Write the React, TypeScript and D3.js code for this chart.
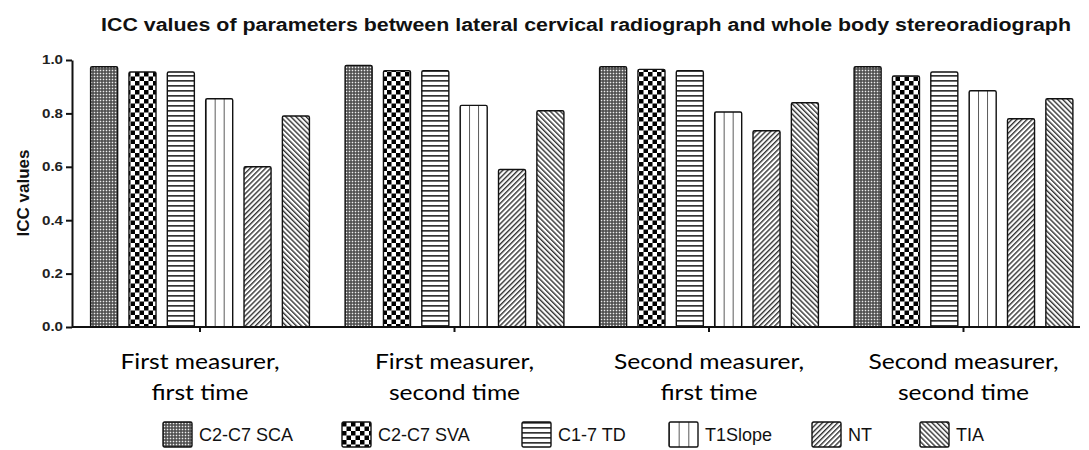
import React, { useEffect, useRef } from "react";
import * as d3 from "d3";

const groupLines = [
  ["First measurer,", "first time"],
  ["First measurer,", "second time"],
  ["Second measurer,", "first time"],
  ["Second measurer,", "second time"],
];
const groups = groupLines.map((l) => l.join(" "));
const seriesNames = ["C2-C7 SCA", "C2-C7 SVA", "C1-7 TD", "T1Slope", "NT", "TIA"];
const scaValues = [0.975, 0.98, 0.975, 0.975];
const svaValues = [0.955, 0.96, 0.965, 0.94];
const tdValues = [0.955, 0.96, 0.96, 0.955];
const slopeValues = [0.855, 0.83, 0.805, 0.885];
const ntValues = [0.6, 0.59, 0.735, 0.78];
const tiaValues = [0.79, 0.81, 0.84, 0.855];
const yTicks = [0, 0.2, 0.4, 0.6, 0.8, 1.0];

const seriesValues = [scaValues, svaValues, tdValues, slopeValues, ntValues, tiaValues];
const patternIds = ["p-sca", "p-sva", "p-td", "p-slope", "p-nt", "p-tia"];
// legend layout (x of each swatch)
const legendX = [163, 342, 522, 669, 812, 920];

const W = 1089;
const H = 450;
const ARIAL = "'Liberation Sans', Arial, sans-serif";

export default function App() {
  const ref = useRef<SVGSVGElement>(null);

  useEffect(() => {
    const svg = d3.select(ref.current);
    svg.selectAll("*").remove();

    const left = 72, top = 60, bottom = 327, right = 1080;

    const defs = svg.append("defs");
    // fine dotted
    const p1 = defs.append("pattern").attr("id", "p-sca").attr("patternUnits", "userSpaceOnUse").attr("width", 3).attr("height", 3);
    p1.append("rect").attr("width", 3).attr("height", 3).attr("fill", "#444");
    p1.append("rect").attr("x", 0.7).attr("y", 0.7).attr("width", 1.6).attr("height", 1.6).attr("fill", "#eee");
    // checker
    const p2 = defs.append("pattern").attr("id", "p-sva").attr("patternUnits", "userSpaceOnUse").attr("width", 9).attr("height", 9);
    p2.append("rect").attr("width", 9).attr("height", 9).attr("fill", "#fff");
    p2.append("rect").attr("width", 4.5).attr("height", 4.5).attr("fill", "#000");
    p2.append("rect").attr("x", 4.5).attr("y", 4.5).attr("width", 4.5).attr("height", 4.5).attr("fill", "#000");
    // horizontal lines
    const p3 = defs.append("pattern").attr("id", "p-td").attr("patternUnits", "userSpaceOnUse").attr("width", 5).attr("height", 5);
    p3.append("rect").attr("width", 5).attr("height", 5).attr("fill", "#fff");
    p3.append("rect").attr("y", 0).attr("width", 5).attr("height", 1.7).attr("fill", "#333");
    // vertical thirds
    const p4 = defs.append("pattern").attr("id", "p-slope").attr("patternUnits", "objectBoundingBox").attr("width", 1 / 3).attr("height", 1);
    p4.append("rect").attr("width", 100).attr("height", 2000).attr("fill", "#fff");
    p4.append("rect").attr("x", -0.6).attr("width", 1.3).attr("height", 2000).attr("fill", "#111");
    // diagonals
    const diag = (id: string, angle: number) => {
      const p = defs.append("pattern").attr("id", id).attr("patternUnits", "userSpaceOnUse")
        .attr("width", 3.6).attr("height", 4).attr("patternTransform", `rotate(${angle})`);
      p.append("rect").attr("width", 3.6).attr("height", 4).attr("fill", "#fff");
      p.append("rect").attr("width", 1.4).attr("height", 4).attr("fill", "#333");
    };
    diag("p-nt", 45);
    diag("p-tia", -45);

    const x0 = d3.scaleBand<string>().domain(groups).range([left, 1091.5]).paddingInner(0.095).paddingOuter(0.0505);
    const x1 = d3.scaleBand<number>().domain(d3.range(seriesNames.length)).range([0, x0.bandwidth()]).paddingInner(0.295).paddingOuter(0.15);
    const y = d3.scaleLinear().domain([0, 1]).range([bottom, top]);

    // title
    svg.append("text").attr("x", 101).attr("y", 31)
      .attr("font-family", ARIAL).attr("font-weight", "bold").attr("font-size", 18)
      .attr("textLength", 970).attr("lengthAdjust", "spacingAndGlyphs").attr("fill", "#111")
      .text("ICC values of parameters between lateral cervical radiograph and whole body stereoradiograph");

    // bars
    seriesValues.forEach((vals, si) => {
      svg.append("g").selectAll("rect").data(vals).enter().append("rect")
        .attr("x", (_, gi) => x0(groups[gi])! + x1(si)!)
        .attr("y", (d) => y(d))
        .attr("width", x1.bandwidth())
        .attr("height", (d) => y(0) - y(d))
        .attr("rx", 1.5)
        .attr("fill", `url(#${patternIds[si]})`)
        .attr("stroke", "#111").attr("stroke-width", 1.4);
    });

    // y axis
    const gy = svg.append("g").attr("transform", `translate(${left},0)`)
      .call(d3.axisLeft(y).tickValues(yTicks).tickFormat(d3.format(".1f")).tickSize(6).tickSizeOuter(0).tickPadding(3));
    gy.select(".domain").attr("stroke", "#111").attr("stroke-width", 2);
    gy.selectAll(".tick line").attr("stroke", "#111").attr("stroke-width", 2);
    gy.selectAll(".tick text").attr("font-family", ARIAL).attr("font-weight", "bold").attr("font-size", 12)
      .attr("fill", "#222").attr("textLength", 21).attr("lengthAdjust", "spacingAndGlyphs");

    // x axis
    const gx = svg.append("g").attr("transform", `translate(0,${bottom})`)
      .call(d3.axisBottom(x0).tickSize(5).tickSizeOuter(0).tickFormat(() => ""));
    gx.select(".domain").attr("d", `M${left},0H${right}`).attr("stroke", "#111").attr("stroke-width", 2);
    gx.selectAll(".tick line").attr("stroke", "#111").attr("stroke-width", 2);

    // category labels
    const lab = svg.append("g").selectAll("g").data(groupLines).enter().append("g")
      .attr("transform", (_, i) => `translate(${x0(groups[i])! + x0.bandwidth() / 2},0)`);
    lab.each(function (lines) {
      lines.forEach((t, li) => {
        d3.select(this).append("text")
          .attr("transform", `translate(0,${369 + li * 31}) scale(1.2,1)`)
          .attr("text-anchor", "middle").attr("font-family", "Lato, 'Open Sans', sans-serif")
          .attr("font-size", 20.5).attr("fill", "#000").text(t);
      });
    });

    // y label
    svg.append("text").attr("transform", `translate(29,193) rotate(-90)`)
      .attr("text-anchor", "middle").attr("font-family", ARIAL).attr("font-weight", "bold")
      .attr("font-size", 17).attr("fill", "#111").text("ICC values");

    // legend
    const lg = svg.append("g").selectAll("g").data(seriesNames).enter().append("g")
      .attr("transform", (_, i) => `translate(${legendX[i]},422)`);
    lg.append("rect").attr("width", 29).attr("height", 25).attr("rx", 1.5)
      .attr("fill", (_, i) => `url(#${patternIds[i]})`).attr("stroke", "#111").attr("stroke-width", 1.4);
    lg.append("text").attr("x", 36).attr("y", 18.5).attr("font-family", ARIAL)
      .attr("font-size", 18).attr("fill", "#111").text((d) => d);
  }, []);

  return (
    <div style={{ position: "absolute", left: 0, top: 0 }}>
      <svg ref={ref} width={W} height={H} style={{ display: "block", background: "#fff" }} />
    </div>
  );
}
